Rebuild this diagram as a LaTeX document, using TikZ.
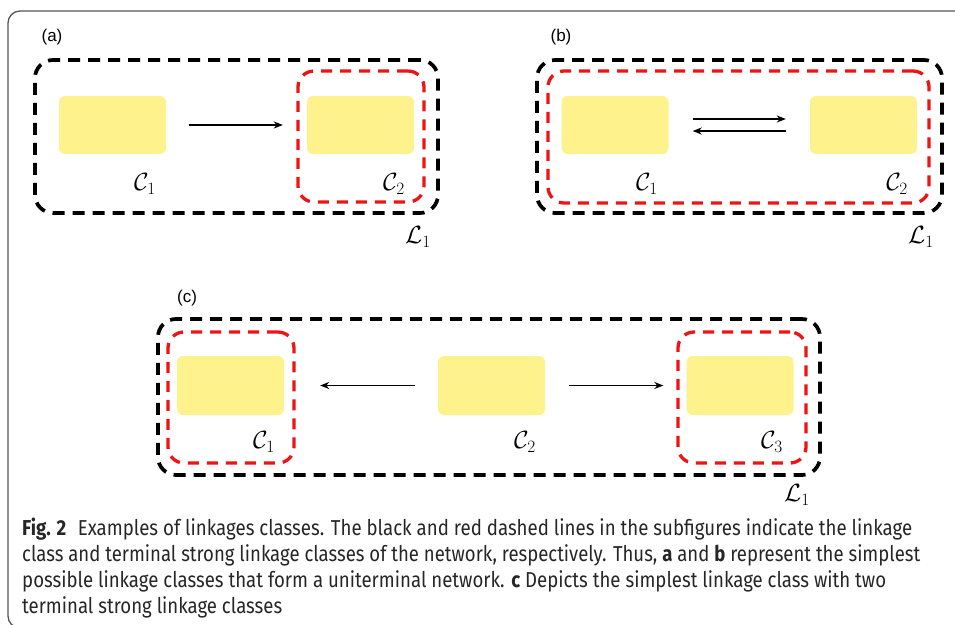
\documentclass[tikz,border=0pt]{standalone}
\usepackage{fontspec}
\usepackage{amsmath}
\usepackage{graphicx}
\usetikzlibrary{arrows.meta}
\newfontfamily\capfont[FakeStretch=0.85]{Fira Sans}
\newfontfamily\panelfont{Liberation Sans}
\definecolor{boxyellow}{RGB}{253,242,140}
\definecolor{dashred}{RGB}{238,20,20}
\definecolor{framegray}{RGB}{85,85,85}
% set one caption line to a given width, keeping its height
\newcommand{\capfit}[2]{\resizebox{#1}{\height}{#2}}
\begin{document}
\begin{tikzpicture}[x=1pt,y=-1pt,
  ybox/.style={fill=boxyellow, rounded corners=6pt, minimum width=107pt,
    minimum height=58pt, inner sep=0pt},
  linkclass/.style={draw=black, line width=3.7pt, dash pattern=on 12pt off 8pt,
    rounded corners=18pt, inner sep=0pt},
  terminal/.style={draw=dashred, line width=3.3pt, dash pattern=on 11pt off 8pt,
    rounded corners=16pt, inner sep=0pt},
  mlabel/.style={font=\fontsize{24}{28}\selectfont, inner sep=0pt},
  panel/.style={font=\panelfont\fontsize{17}{20}\selectfont, inner sep=0pt},
  capline/.style={font=\capfont\fontsize{21.6}{26}\selectfont, anchor=base west,
    inner sep=0pt, text=black!85},
  reaction/.style={-{Stealth[length=9pt,width=7pt]}, line width=1.2pt}]

\useasboundingbox (0,0) rectangle (955,624);
\clip (0,0) rectangle (955,624);

% outer figure frame
\draw[framegray, line width=1.3pt, rounded corners=12pt] (8,11) rectangle (990,628);

% ---------- (a) ----------
\node[panel] (pa) at (52,37) {(a)};
\node[linkclass, minimum width=403pt, minimum height=153pt] (La) at (236.5,136.5) {};
\node[terminal, minimum width=126pt, minimum height=131pt] (Ta) at (361,136.5) {};
\node[ybox] (a1) at (112.5,125) {};
\node[ybox] (a2) at (360.5,125) {};
\draw[reaction, shorten <=23pt, shorten >=24pt] (a1.east) -- (a2.west);
\node[mlabel] (ca1) at (145,184) {$\mathcal{C}_1$};
\node[mlabel] (ca2) at (394,184) {$\mathcal{C}_2$};
\node[mlabel] (la) at (418,237) {$\mathcal{L}_1$};

% ---------- (b) ----------
\node[panel] (pb) at (561,37) {(b)};
\node[linkclass, minimum width=405pt, minimum height=153pt] (Lb) at (739.5,136.5) {};
\node[terminal, minimum width=381pt, minimum height=132pt] (Tb) at (738.5,137) {};
\node[ybox] (b1) at (615,125) {};
\node[ybox] (b2) at (863.5,125) {};
\draw[reaction, shorten <=24pt, shorten >=24pt] ([yshift=6pt]b1.east) -- ([yshift=6pt]b2.west);
\draw[reaction, shorten <=24pt, shorten >=24pt] ([yshift=-6pt]b2.west) -- ([yshift=-6pt]b1.east);
\node[mlabel] (cb1) at (647,184) {$\mathcal{C}_1$};
\node[mlabel] (cb2) at (897,184) {$\mathcal{C}_2$};
\node[mlabel] (lb) at (921,237) {$\mathcal{L}_1$};

% ---------- (c) ----------
\node[panel] (pc) at (187,298) {(c)};
\node[linkclass, minimum width=662pt, minimum height=156pt] (Lc) at (489,397) {};
\node[terminal, minimum width=126pt, minimum height=131pt] (Tc1) at (231,397.5) {};
\node[terminal, minimum width=128pt, minimum height=131pt] (Tc3) at (742,397.5) {};
\node[ybox, minimum height=59pt] (c1) at (230.5,385.5) {};
\node[ybox, minimum height=59pt] (c2) at (491.5,385.5) {};
\node[ybox, minimum height=59pt] (c3) at (740,385.5) {};
\draw[reaction, shorten <=23pt, shorten >=36pt] (c2.west) -- (c1.east);
\draw[reaction, shorten <=24pt, shorten >=23pt] (c2.east) -- (c3.west);
\node[mlabel] (cc1) at (264,442) {$\mathcal{C}_1$};
\node[mlabel] (cc2) at (525,442) {$\mathcal{C}_2$};
\node[mlabel] (cc3) at (772,442) {$\mathcal{C}_3$};
\node[mlabel] (lc) at (797,495) {$\mathcal{L}_1$};

% ---------- caption ----------
\node[capline] (cap1) at (22,535) {\capfit{890pt}{\textbf{Fig. 2}\hspace{0.3em} Examples of linkages classes. The black and red dashed lines in the subfigures indicate the linkage}};
\node[capline] (cap2) at (22,561) {\capfit{898pt}{class and terminal strong linkage classes of the network, respectively. Thus, \textbf{a} and \textbf{b} represent the simplest}};
\node[capline] (cap3) at (22,587) {\capfit{864pt}{possible linkage classes that form a uniterminal network. \textbf{c} Depicts the simplest linkage class with two}};
\node[capline] (cap4) at (22,613) {\capfit{260pt}{terminal strong linkage classes}};
\end{tikzpicture}
\end{document}
